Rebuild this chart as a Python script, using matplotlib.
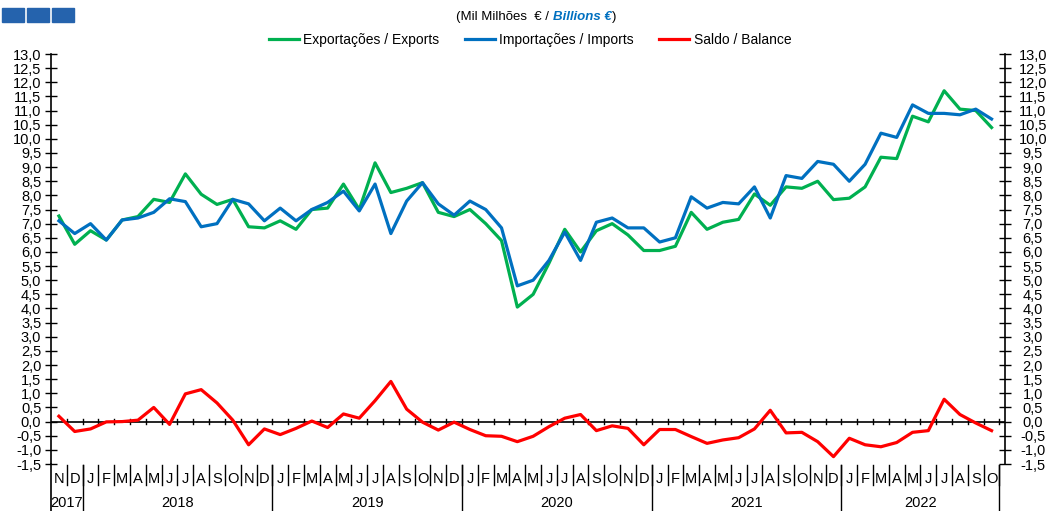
import numpy as np
import matplotlib
matplotlib.use("Agg")
import matplotlib.pyplot as plt
import matplotlib.transforms as mtrans
from matplotlib.patches import Rectangle
from matplotlib.lines import Line2D

plt.rcParams['font.family'] = ['Liberation Sans', 'DejaVu Sans']

# Nov 2017 .. Oct 2022, mil milhões de euros
months = ['N', 'D',
          'J', 'F', 'M', 'A', 'M', 'J', 'J', 'A', 'S', 'O', 'N', 'D',
          'J', 'F', 'M', 'A', 'M', 'J', 'J', 'A', 'S', 'O', 'N', 'D',
          'J', 'F', 'M', 'A', 'M', 'J', 'J', 'A', 'S', 'O', 'N', 'D',
          'J', 'F', 'M', 'A', 'M', 'J', 'J', 'A', 'S', 'O', 'N', 'D',
          'J', 'F', 'M', 'A', 'M', 'J', 'J', 'A', 'S', 'O']
years = ['2017', '2018', '2019', '2020', '2021', '2022']
year_len = [2, 12, 12, 12, 12, 10]

exports = [7.27, 6.27, 6.75, 6.42, 7.13, 7.25, 7.86, 7.75, 8.76, 8.04, 7.68, 7.86,
           6.89, 6.85, 7.1, 6.8, 7.5, 7.55, 8.4, 7.5, 9.15, 8.1, 8.25, 8.45,
           7.4, 7.25, 7.5, 7.0, 6.4, 4.05, 4.5, 5.6, 6.8, 6.0, 6.75, 7.0,
           6.6, 6.05, 6.05, 6.2, 7.4, 6.8, 7.05, 7.15, 8.05, 7.65, 8.3, 8.25,
           8.5, 7.85, 7.9, 8.3, 9.35, 9.3, 10.8, 10.6, 11.7, 11.05, 11.0, 10.4]
imports = [7.1, 6.65, 7.0, 6.42, 7.13, 7.2, 7.4, 7.88, 7.78, 6.89, 7.0, 7.86,
           7.7, 7.1, 7.55, 7.1, 7.5, 7.75, 8.15, 7.45, 8.4, 6.65, 7.8, 8.45,
           7.7, 7.3, 7.8, 7.5, 6.85, 4.8, 5.0, 5.7, 6.7, 5.7, 7.05, 7.2,
           6.85, 6.85, 6.35, 6.5, 7.95, 7.55, 7.75, 7.7, 8.3, 7.2, 8.7, 8.6,
           9.2, 9.1, 8.5, 9.1, 10.2, 10.05, 11.2, 10.9, 10.9, 10.85, 11.05, 10.7]
balance = [0.19, -0.35, -0.26, -0.01, 0.0, 0.05, 0.5, -0.1, 0.98, 1.13, 0.66, 0.05,
           -0.82, -0.26, -0.46, -0.24, 0.02, -0.21, 0.27, 0.12, 0.74, 1.42, 0.44, -0.02,
           -0.3, -0.02, -0.28, -0.5, -0.52, -0.71, -0.52, -0.18, 0.12, 0.25, -0.32, -0.15,
           -0.24, -0.82, -0.28, -0.28, -0.53, -0.77, -0.65, -0.57, -0.26, 0.4, -0.4, -0.38,
           -0.71, -1.24, -0.59, -0.82, -0.89, -0.74, -0.38, -0.32, 0.79, 0.25, -0.05, -0.32]

x = np.arange(len(months))

fig = plt.figure(figsize=(10.46, 5.11), dpi=100)
ax = fig.add_axes([51/1046, 1 - 464/511, (1005 - 51)/1046, (464 - 54)/511])

verde = '#00b050'
azul = '#0070c0'
vermelho = '#ff0000'

ax.axhline(0, color='black', lw=1.2, zorder=1)
ax.plot(x, exports, color=verde, lw=2.3, zorder=3)
ax.plot(x, imports, color=azul, lw=2.3, zorder=4)
ax.plot(x, balance, color=vermelho, lw=2.3, zorder=5)

ax.set_xlim(-0.5, 59.85)
ax.set_ylim(-1.5, 13.0)
ticks = np.arange(-1.5, 13.01, 0.5)
ax.set_yticks(ticks)
ax.set_yticklabels([f'{t:.1f}'.replace('.', ',') for t in ticks])
ax.tick_params(axis='y', left=True, right=True, labelleft=True, labelright=True,
               direction='inout', length=8, width=1, labelsize=10.5, pad=3)
# right labels are centred about 26px from the axis
off = mtrans.ScaledTranslation(18/100, 0, fig.dpi_scale_trans)
for t in ax.yaxis.get_major_ticks():
    t.label2.set_horizontalalignment('center')
    t.label2.set_transform(t.label2.get_transform() + off)

ax.set_xticks([])
for s in ['top', 'bottom']:
    ax.spines[s].set_visible(False)
for s in ['left', 'right']:
    ax.spines[s].set_linewidth(1.2)

# marks on zero line between months
for i in range(len(months)):
    ax.plot([i + 0.5, i + 0.5], [-0.1, 0.1], color='black', lw=1, zorder=1)

# month / year labels below the axis
trans = ax.get_xaxis_transform()
y_top = -0.003
y_mon = -0.036
y_sep = -0.051
y_year = -0.095
y_bot = -0.12
for i, m in enumerate(months):
    ax.text(i, y_mon, m, transform=trans, ha='center', va='center', fontsize=10.5)
    ax.plot([i + 0.5, i + 0.5], [y_top, y_sep], transform=trans, color='black',
            lw=1, clip_on=False)
ax.plot([-0.5, -0.5], [0, y_bot], transform=trans, color='black', lw=1.2, clip_on=False)
start = -0.5
for yr, n in zip(years, year_len):
    end = start + n
    ax.plot([end, end], [y_top, y_bot], transform=trans, color='black', lw=1, clip_on=False)
    ax.text((start + end) / 2, y_year, yr, transform=trans, ha='center', va='center',
            fontsize=10.5)
    start = end

# legend
handles = [Line2D([], [], color=verde, lw=2.3),
           Line2D([], [], color=azul, lw=2.3),
           Line2D([], [], color=vermelho, lw=2.3)]
fig.legend(handles, ['Exportações / Exports', 'Importações / Imports', 'Saldo / Balance'],
           loc='center', bbox_to_anchor=(530/1046, 1 - 40/511), ncol=3, frameon=False,
           fontsize=10, handlelength=2.2, handletextpad=0.3, columnspacing=1.8)

# subtitle
fig.canvas.draw()
r = fig.canvas.get_renderer()
t1 = fig.text(0, 1 - 17/511, '(Mil Milhões  € / ', fontsize=9.5, va='center')
t2 = fig.text(0, 1 - 17/511, 'Billions €', fontsize=9.5, va='center', color=azul,
              fontweight='bold', style='italic')
t3 = fig.text(0, 1 - 17/511, ')', fontsize=9.5, va='center')
w1 = t1.get_window_extent(r).width
w2 = t2.get_window_extent(r).width
w3 = t3.get_window_extent(r).width
x0 = 536 - (w1 + w2 + w3) / 2
t1.set_x(x0 / 1046)
t2.set_x((x0 + w1) / 1046)
t3.set_x((x0 + w1 + w2 + 1) / 1046)

# blue squares top left
for k in range(3):
    fig.patches.append(Rectangle(((2 + k * 25) / 1046, 1 - 22/511), 22/1046, 14/511,
                                 transform=fig.transFigure, color='#2563ad'))

fig.savefig('out.png', dpi=100)
